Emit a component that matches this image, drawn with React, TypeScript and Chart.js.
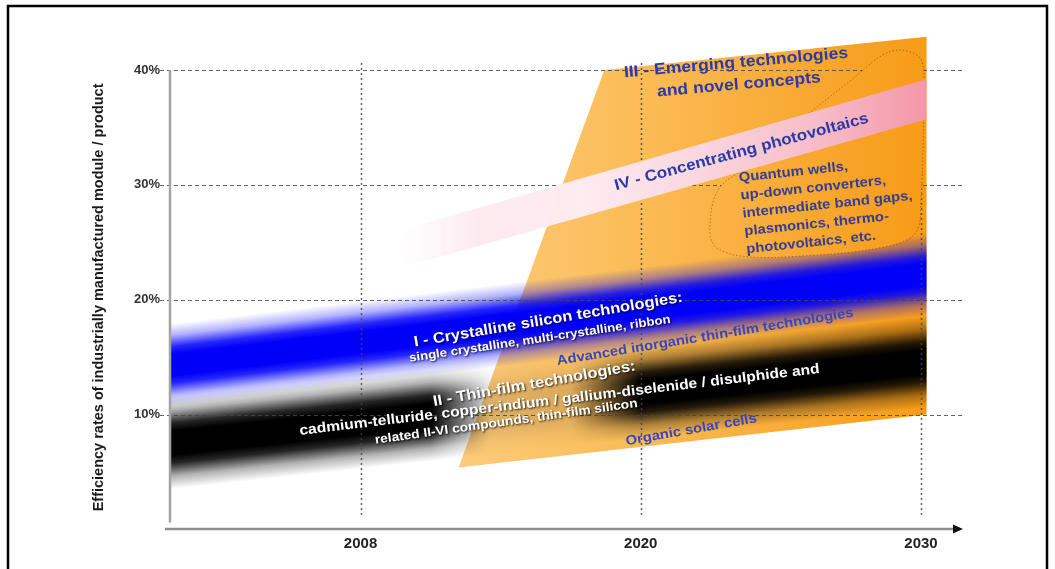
import { useEffect, useRef } from 'react';
import { Chart, registerables } from 'chart.js';

Chart.register(...registerables);

// Timeline positions on the x axis: 0 = 2008, 1 = 2020, 2 = 2030
const YEAR_STEPS = [0, 1, 2];
const YEAR_LABELS = ['2008', '2020', '2030'];
const EFFICIENCY_TICKS = [10, 20, 30, 40];
const AXIS_TITLE = 'Efficiency rates of industrially manufactured module / product';

// Outlines of the technology areas as [timeline position, efficiency %]
const EMERGING_AREA = [[0.35, 5.4], [0.87, 40.0], [2.02, 42.9], [2.02, 10.0]];
const CRYSTALLINE_BAND = [[-0.68, 17.9], [2.02, 25.8], [2.02, 18.6], [-0.68, 10.7]];
const THIN_FILM_BAND = [[-0.68, 11.5], [2.02, 18.6], [2.02, 10.6], [-0.68, 3.5]];
const CONCENTRATING_BAND = [[0.15, 26.1], [2.02, 39.2], [2.02, 35.7], [0.15, 22.8]];
const NOVEL_CONCEPTS_AREA = [
  [1.53, 34.9], [1.75, 39.1], [1.87, 41.4], [1.94, 41.7], [2.0, 40.9], [2.01, 38.3],
  [2.0, 28.7], [1.98, 25.8], [1.87, 24.6], [1.57, 23.8], [1.36, 23.8], [1.26, 24.8],
  [1.25, 27.4], [1.28, 29.7], [1.36, 31.3], [1.53, 34.9],
];

const FONT = '"Liberation Sans", Arial, Helvetica, sans-serif';
const TEXT_STRETCH = 1.1;

// Area captions, anchored in data coordinates
const NOTES = [
  { lines: ['III - Emerging technologies'], at: [1.34, 40.6], angle: -5, size: 16, color: '#2a3aa8' },
  { lines: ['and novel concepts'], at: [1.35, 38.7], angle: -5, size: 16, color: '#2a3aa8' },
  { lines: ['IV - Concentrating photovoltaics'], at: [1.36, 32.85], angle: -15, size: 15.5, color: '#2a3aa8' },
  {
    lines: ['Quantum wells,', 'up-down converters,', 'intermediate band gaps,', 'plasmonics, thermo-', 'photovoltaics, etc.'],
    at: [1.35, 30.6], angle: -6, size: 13.5, color: '#343d96', align: 'left', lineHeight: 18,
  },
  { lines: ['I - Crystalline silicon technologies:'], at: [0.67, 18.23], angle: -9.5, size: 15, color: '#ffffff', halo: true },
  { lines: ['single crystalline, multi-crystalline, ribbon'], at: [0.64, 16.58], angle: -8.5, size: 12, color: '#ffffff', halo: true },
  { lines: ['Advanced inorganic thin-film technologies'], at: [1.23, 16.75], angle: -9.3, size: 13.5, color: '#3446c4' },
  { lines: ['II - Thin-film technologies:'], at: [0.62, 12.66], angle: -10, size: 15, color: '#ffffff', halo: true },
  { lines: ['cadmium-telluride, copper-indium / gallium-diselenide / disulphide and'], at: [0.71, 11.27], angle: -6.8, size: 14.2, color: '#ffffff', halo: true },
  { lines: ['related II-VI compounds, thin-film silicon'], at: [0.52, 9.36], angle: -8, size: 12.5, color: '#ffffff', halo: true },
  { lines: ['Organic solar cells'], at: [1.18, 8.66], angle: -10, size: 13.5, color: '#3446c4' },
];

// Soft cross-section of the blue and black bands (position across band, opacity)
const BAND_PROFILE = [[0, 0], [0.14, 0.3], [0.28, 0.85], [0.37, 1], [0.63, 1], [0.72, 0.85], [0.86, 0.3], [1, 0]];
// Opacity of the thin-film band along the timeline (position, opacity)
const THIN_FILM_FADE = [[-0.68, 1], [0.25, 1], [0.46, 0.12], [0.75, 0.12], [1.0, 1], [2.02, 1]];

const toPoints = (rows: number[][]) => rows.map(([x, y]) => ({ x, y }));

function bandPattern(chart: any, band: number[][], rgb: string, fade?: number[][]) {
  const { x, y } = chart.scales;
  const canvas = document.createElement('canvas');
  canvas.width = chart.width;
  canvas.height = chart.height;
  const g = canvas.getContext('2d')!;
  const [tl, tr, br, bl] = band.map(([a, b]) => [x.getPixelForValue(a), y.getPixelForValue(b)]);
  const cl = [(tl[0] + bl[0]) / 2, (tl[1] + bl[1]) / 2];
  const cr = [(tr[0] + br[0]) / 2, (tr[1] + br[1]) / 2];
  const dx = cr[0] - cl[0];
  const dy = cr[1] - cl[1];
  const len = Math.hypot(dx, dy);
  const nx = -dy / len;
  const ny = dx / len;
  const half = ((bl[1] - tl[1]) / 2) * (dx / len);
  const across = g.createLinearGradient(cl[0] - nx * half, cl[1] - ny * half, cl[0] + nx * half, cl[1] + ny * half);
  BAND_PROFILE.forEach(([p, a]) => across.addColorStop(p, `rgba(${rgb},${a})`));
  g.fillStyle = across;
  g.fillRect(0, 0, canvas.width, canvas.height);
  if (fade) {
    const x0 = x.getPixelForValue(fade[0][0]);
    const x1 = x.getPixelForValue(fade[fade.length - 1][0]);
    const along = g.createLinearGradient(x0, 0, x1, 0);
    fade.forEach(([v, a]) => along.addColorStop((x.getPixelForValue(v) - x0) / (x1 - x0), `rgba(0,0,0,${a})`));
    g.globalCompositeOperation = 'destination-in';
    g.fillStyle = along;
    g.fillRect(0, 0, canvas.width, canvas.height);
  }
  return g.createPattern(canvas, 'no-repeat');
}

function orangeFill(ctx: any) {
  const chart = ctx.chart;
  if (!chart.chartArea) return '#f9b040';
  const { x } = chart.scales;
  const gr = chart.ctx.createLinearGradient(x.getPixelForValue(0.35), 0, x.getPixelForValue(2.02), 0);
  gr.addColorStop(0, '#fdcb7b');
  gr.addColorStop(0.4, '#fbbb55');
  gr.addColorStop(1, '#f79b17');
  return gr;
}

function pinkFill(ctx: any) {
  const chart = ctx.chart;
  if (!chart.chartArea) return '#f8c0ca';
  const { x } = chart.scales;
  const x0 = x.getPixelForValue(0.15);
  const x1 = x.getPixelForValue(2.02);
  const gr = chart.ctx.createLinearGradient(x0, 0, x1, 0);
  const at = (px: number) => Math.min(1, Math.max(0, (px - x0) / (x1 - x0)));
  gr.addColorStop(0, 'rgba(252,232,238,0)');
  gr.addColorStop(at(480), 'rgba(252,232,238,0.9)');
  gr.addColorStop(at(580), 'rgba(253,236,241,1)');
  gr.addColorStop(at(700), '#fad6de');
  gr.addColorStop(at(820), '#f7bcc7');
  gr.addColorStop(1, '#f497a8');
  return gr;
}

const polygon = (rows: number[][], order: number, backgroundColor: any, extra: any = {}) => ({
  data: toPoints(rows),
  showLine: true,
  fill: 'shape',
  borderWidth: 0,
  pointRadius: 0,
  pointHoverRadius: 0,
  tension: 0,
  order,
  backgroundColor,
  ...extra,
});

const THIN_FILM_INDEX = 2;

const overlay = {
  id: 'roadmapOverlay',
  afterDatasetDraw(chart: any, args: any) {
    if (args.index !== THIN_FILM_INDEX) return;
    const { ctx, chartArea } = chart;
    const { x, y } = chart.scales;
    ctx.save();
    ctx.strokeStyle = 'rgba(70,70,70,0.85)';
    ctx.lineWidth = 1.2;
    ctx.setLineDash([4, 3]);
    EFFICIENCY_TICKS.forEach((v) => {
      const yy = Math.round(y.getPixelForValue(v)) + 0.5;
      ctx.beginPath();
      ctx.moveTo(chartArea.left - 10, yy);
      ctx.lineTo(chartArea.right - 1, yy);
      ctx.stroke();
    });
    ctx.setLineDash([2, 3]);
    ctx.lineWidth = 1.5;
    YEAR_STEPS.forEach((v) => {
      const xx = Math.round(x.getPixelForValue(v)) + 0.5;
      ctx.beginPath();
      ctx.moveTo(xx, y.getPixelForValue(40.6));
      ctx.lineTo(xx, y.getPixelForValue(1.2));
      ctx.stroke();
    });
    ctx.restore();
  },
  afterDatasetsDraw(chart: any) {
    const { ctx, chartArea } = chart;
    const { x, y } = chart.scales;
    ctx.save();
    // axes
    ctx.setLineDash([]);
    ctx.lineWidth = 2.5;
    ctx.strokeStyle = '#a3a3a3';
    ctx.beginPath();
    ctx.moveTo(chartArea.left, y.getPixelForValue(40));
    ctx.lineTo(chartArea.left, y.getPixelForValue(0.6));
    ctx.stroke();
    const y0 = y.getPixelForValue(0) - 0.5;
    ctx.strokeStyle = '#8f8f8f';
    ctx.beginPath();
    ctx.moveTo(chartArea.left - 5, y0);
    ctx.lineTo(chartArea.right - 8, y0);
    ctx.stroke();
    ctx.fillStyle = '#111';
    ctx.beginPath();
    ctx.moveTo(chartArea.right, y0);
    ctx.lineTo(chartArea.right - 10, y0 - 4.5);
    ctx.lineTo(chartArea.right - 10, y0 + 4.5);
    ctx.closePath();
    ctx.fill();

    // y axis title
    ctx.save();
    ctx.translate(chartArea.left - 71, y.getPixelForValue(20.2));
    ctx.rotate(-Math.PI / 2);
    ctx.font = `bold 14.5px ${FONT}`;
    ctx.fillStyle = '#1a1a1a';
    ctx.textAlign = 'center';
    ctx.textBaseline = 'middle';
    ctx.fillText(AXIS_TITLE, 0, 0);
    ctx.restore();

    // captions
    NOTES.forEach((n: any) => {
      ctx.save();
      ctx.translate(x.getPixelForValue(n.at[0]), y.getPixelForValue(n.at[1]));
      ctx.rotate((n.angle * Math.PI) / 180);
      ctx.scale(TEXT_STRETCH, 1);
      ctx.font = `bold ${n.size}px ${FONT}`;
      ctx.textAlign = n.align || 'center';
      ctx.textBaseline = 'middle';
      ctx.fillStyle = n.color;
      if (n.halo) {
        ctx.shadowColor = 'rgba(0,0,0,0.85)';
        ctx.shadowBlur = 2;
        ctx.shadowOffsetX = 1;
        ctx.shadowOffsetY = 1;
      }
      n.lines.forEach((t: string, i: number) => ctx.fillText(t, 0, i * (n.lineHeight || 0)));
      ctx.restore();
    });
    ctx.restore();
  },
  afterDraw(chart: any) {
    const { ctx } = chart;
    ctx.save();
    ctx.strokeStyle = '#000';
    ctx.lineWidth = 2.5;
    ctx.beginPath();
    ctx.moveTo(8, 580);
    ctx.lineTo(8, 6);
    ctx.lineTo(1047, 6);
    ctx.lineTo(1047, 580);
    ctx.stroke();
    ctx.restore();
  },
};

export default function App() {
  const canvasRef = useRef<HTMLCanvasElement>(null);

  useEffect(() => {
    const canvas = canvasRef.current;
    if (!canvas) return;
    const chart = new Chart(canvas, {
      type: 'scatter',
      data: {
        datasets: [
          polygon(EMERGING_AREA, 5, orangeFill),
          polygon(CRYSTALLINE_BAND, 4, (c: any) =>
            c.chart.chartArea ? bandPattern(c.chart, CRYSTALLINE_BAND, '0,0,250') : 'rgba(0,0,250,0.8)'),
          polygon(THIN_FILM_BAND, 3, (c: any) =>
            c.chart.chartArea ? bandPattern(c.chart, THIN_FILM_BAND, '0,0,0', THIN_FILM_FADE) : 'rgba(0,0,0,0.8)'),
          polygon(NOVEL_CONCEPTS_AREA, 2, orangeFill, {
            tension: 0.35,
            borderWidth: 1,
            borderColor: 'rgba(150,85,10,0.7)',
            borderDash: [1.5, 2],
          }),
          polygon(CONCENTRATING_BAND, 1, pinkFill),
        ] as any,
      },
      options: {
        responsive: false,
        animation: false,
        events: [],
        devicePixelRatio: 1,
        layout: { padding: { left: 0, top: 24, right: 92, bottom: 0 } },
        plugins: { legend: { display: false }, tooltip: { enabled: false } },
        scales: {
          x: {
            type: 'linear',
            min: -0.68,
            max: 2.15,
            grid: { display: false, drawTicks: false },
            border: { display: false },
            afterBuildTicks: (axis: any) => {
              axis.ticks = YEAR_STEPS.map((value) => ({ value }));
            },
            afterFit: (axis: any) => {
              axis.height = 39.5;
            },
            ticks: {
              autoSkip: false,
              maxRotation: 0,
              padding: 5,
              color: '#222',
              font: { family: FONT, weight: 'bold', size: 15 },
              callback: (v: any) => YEAR_LABELS[YEAR_STEPS.indexOf(Number(v))] ?? '',
            },
          },
          y: {
            type: 'linear',
            min: 0,
            max: 44,
            grid: { display: false, drawTicks: false },
            border: { display: false },
            afterBuildTicks: (axis: any) => {
              axis.ticks = EFFICIENCY_TICKS.map((value) => ({ value }));
            },
            afterFit: (axis: any) => {
              axis.width = 170;
            },
            ticks: {
              padding: 10,
              color: '#333',
              font: { family: FONT, weight: 'bold', size: 13 },
              callback: (v: any) => `${v}%`,
            },
          },
        },
      } as any,
      plugins: [overlay],
    });
    return () => chart.destroy();
  }, []);

  return (
    <div style={{ position: 'fixed', left: 0, top: 0, width: 1055, height: 569, background: '#fff' }}>
      <canvas ref={canvasRef} width={1055} height={569} />
    </div>
  );
}
